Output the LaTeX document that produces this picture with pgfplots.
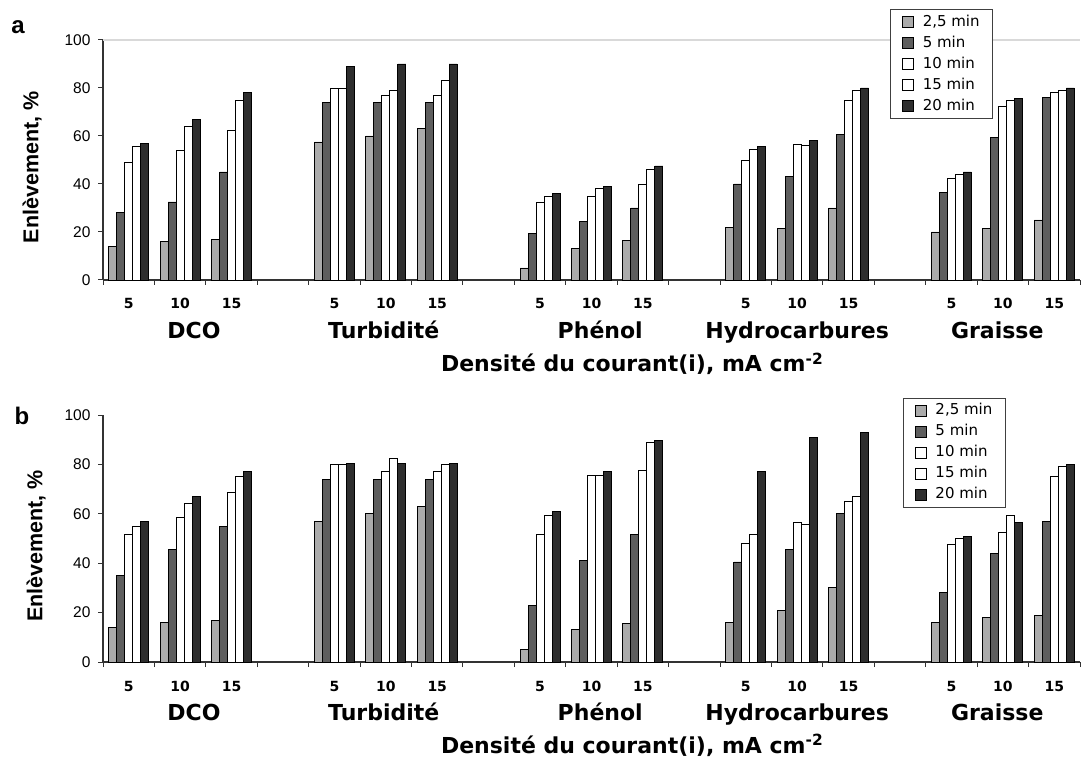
\documentclass[border=0pt]{standalone}
\usepackage{fontspec}
\setmainfont{Liberation Sans}
\newfontfamily\dvs{DejaVu Sans}
\usepackage{pgfplots}
\usepackage{pgfplotstable}
\pgfplotsset{compat=1.18}

\definecolor{cA}{HTML}{ABABAB}
\definecolor{cB}{HTML}{5E5E5E}
\definecolor{cE}{HTML}{2E2E2E}

\pgfplotstableread{
x t25 t5 t10 t15 t20
0 14 28 49 55.5 57
1 16 32.5 54 64 67
2 17 45 62.5 75 78
4 57.5 74 80 80 89
5 60 74 77 79 90
6 63 74 77 83 90
8 5 19.5 32.5 35 36
9 13 24.5 35 38 39
10 16.5 30 40 46 47.5
12 22 40 50 54.5 55.5
13 21.5 43 56.5 56 58
14 30 60.5 75 79 80
16 20 36.5 42.5 44 45
17 21.5 59.5 72.5 75 75.5
18 25 76 78 79 80
}\dataA

\pgfplotstableread{
x t25 t5 t10 t15 t20
0 14 35 51.5 55 57
1 16 45.5 58.5 64 67
2 17 55 68.5 75 77
4 57 74 80 80 80.5
5 60 74 77 82.5 80.5
6 63 74 77 80 80.5
8 5 23 51.5 59.5 61
9 13 41 75.5 75.5 77
10 15.5 51.5 77.5 89 89.5
12 16 40.5 48 51.5 77
13 21 45.5 56.5 55.5 91
14 30 60 65 67 93
16 16 28 47.5 50 51
17 18 44 52.5 59.5 56.5
18 19 57 75 79 80
}\dataB

\tikzset{catlab/.style={font=\dvs\bfseries\fontsize{22}{22}\selectfont, anchor=base}}

\pgfplotsset{
  sqleg/.style={legend image code/.code={\draw[##1, line width=0.8pt, draw=black] (0pt,-5.5pt) rectangle (11pt,5.5pt);}},
  panel/.style={
    scale only axis, width=977pt, anchor=south west,
    axis lines*=left,
    axis line style={line width=1.1pt, black!80},
    xmin=-0.5, xmax=18.5, ymin=0, ymax=100,
    xtick={-0.5,0.5,...,18.5}, xticklabels={},
    extra x ticks={0,1,2,4,5,6,8,9,10,12,13,14,16,17,18},
    extra x tick labels={5,10,15,5,10,15,5,10,15,5,10,15,5,10,15},
    extra x tick style={major tick length=0pt, xticklabel style={yshift=-4pt}},
    ytick={0,20,...,100},
    tick align=outside, major tick length=5pt,
    tick style={line width=1pt, black!80},
    ybar=0pt, bar width=8pt,
    clip=false,
    /pgf/number format/assume math mode=true,
    xticklabel style={font=\dvs\bfseries\fontsize{14}{14}\selectfont, anchor=base, yshift=-25pt},
    yticklabel style={font=\fontsize{15.5}{16}\selectfont, xshift=-4pt},
    legend cell align=left,
    legend style={draw=black!75, line width=1pt, fill=white, anchor=north west,
      font=\dvs\fontsize{15}{15}\selectfont,
      inner xsep=11pt, inner ysep=4pt, row sep=4pt,
      /tikz/every odd column/.append style={column sep=7pt},
      nodes={inner sep=2pt, text height=10.5pt, text depth=2.5pt}},
  },
}

\begin{document}
\begin{tikzpicture}
\path[use as bounding box] (0pt,0pt) rectangle (1083pt,758pt);
\node[font=\bfseries\fontsize{24}{24}\selectfont] at (18pt,731pt) {a};
\node[font=\bfseries\fontsize{24}{24}\selectfont] at (22pt,342pt) {b};

% ---------------- panel a ----------------
\begin{axis}[panel, at={(103pt,478pt)}, height=240pt,
  extra y ticks={100}, extra y tick labels={},
  extra y tick style={grid=major, major grid style={line width=2.5pt, black!15}, major tick length=0pt},
  legend style={at={(0.806,1.129)}}]
\addplot[fill=cA, draw=black, line width=0.9pt, sqleg] table[x=x,y=t25]{\dataA};
\addlegendentry{2,5 min}
\addplot[fill=cB, draw=black, line width=0.9pt, sqleg] table[x=x,y=t5]{\dataA};
\addlegendentry{5 min}
\addplot[fill=white, draw=black, line width=0.9pt, sqleg] table[x=x,y=t10]{\dataA};
\addlegendentry{10 min}
\addplot[fill=white, draw=black, line width=0.9pt, sqleg] table[x=x,y=t15]{\dataA};
\addlegendentry{15 min}
\addplot[fill=cE, draw=black, line width=0.9pt, sqleg] table[x=x,y=t20]{\dataA};
\addlegendentry{20 min}
\node[rotate=90, font=\bfseries\fontsize{21.5}{22}\selectfont] at (axis cs:-1.88,47) {Enlèvement, \%};
\node[catlab] at (axis cs:1.27,0) [yshift=-59pt] {DCO};
\node[catlab] at (axis cs:4.96,0) [yshift=-59pt] {Turbidité};
\node[catlab] at (axis cs:9.17,0) [yshift=-59pt] {Phénol};
\node[catlab] at (axis cs:13.0,0) [yshift=-59pt] {Hydrocarbures};
\node[catlab] at (axis cs:16.89,0) [yshift=-59pt] {Graisse};
\node[catlab] at (axis cs:9.79,0) [yshift=-92pt] {Densité du courant(i), mA cm\textsuperscript{-2}};
\end{axis}

% ---------------- panel b ----------------
\begin{axis}[panel, at={(103pt,96pt)}, height=247pt,
  legend style={at={(0.819,1.069)}}]
\addplot[fill=cA, draw=black, line width=0.9pt, sqleg] table[x=x,y=t25]{\dataB};
\addlegendentry{2,5 min}
\addplot[fill=cB, draw=black, line width=0.9pt, sqleg] table[x=x,y=t5]{\dataB};
\addlegendentry{5 min}
\addplot[fill=white, draw=black, line width=0.9pt, sqleg] table[x=x,y=t10]{\dataB};
\addlegendentry{10 min}
\addplot[fill=white, draw=black, line width=0.9pt, sqleg] table[x=x,y=t15]{\dataB};
\addlegendentry{15 min}
\addplot[fill=cE, draw=black, line width=0.9pt, sqleg] table[x=x,y=t20]{\dataB};
\addlegendentry{20 min}
\node[rotate=90, font=\bfseries\fontsize{21.5}{22}\selectfont] at (axis cs:-1.80,47) {Enlèvement, \%};
\node[catlab] at (axis cs:1.27,0) [yshift=-58pt] {DCO};
\node[catlab] at (axis cs:4.96,0) [yshift=-58pt] {Turbidité};
\node[catlab] at (axis cs:9.17,0) [yshift=-58pt] {Phénol};
\node[catlab] at (axis cs:13.0,0) [yshift=-58pt] {Hydrocarbures};
\node[catlab] at (axis cs:16.89,0) [yshift=-58pt] {Graisse};
\node[catlab] at (axis cs:9.79,0) [yshift=-91pt] {Densité du courant(i), mA cm\textsuperscript{-2}};
\end{axis}
\end{tikzpicture}
\end{document}
